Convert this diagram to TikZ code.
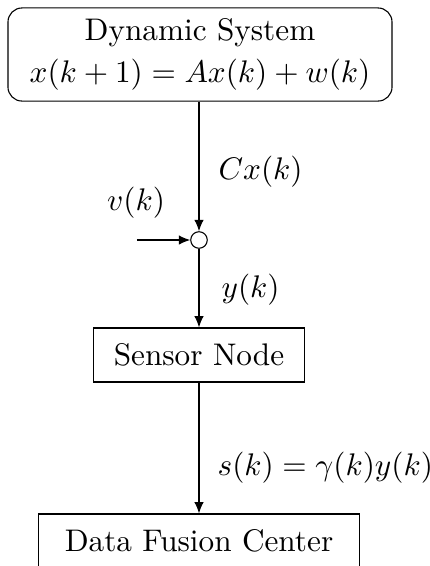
\documentclass[tikz,border=0pt]{standalone}
\usetikzlibrary{arrows.meta}
\begin{document}
\begin{tikzpicture}[x=0.32pt,y=-0.32pt,
  blk/.style={draw,line width=0.35pt,inner sep=0pt,align=center},
  lbl/.style={inner sep=0pt,anchor=west},
  arr/.style={-{Latex[length=3.6pt,width=3pt]},line width=0.35pt}]
\useasboundingbox (0,0) rectangle (430,566);
\clip (0,0) rectangle (430,566);
\node[blk,rounded corners=4.5pt,minimum width=122.9pt,minimum height=29.8pt] (sys) at (200,54.5)
  {Dynamic System\\[1.5pt] $x(k+1)=Ax(k)+w(k)$};
\node[draw,circle,line width=0.35pt,minimum size=5.3pt,inner sep=0pt] (sum) at (199,240) {};
\node[blk,minimum width=67.8pt,minimum height=17.3pt] (sen) at (199,355) {Sensor Node};
\node[blk,minimum width=103pt,minimum height=17.3pt] (dfc) at (199,541) {Data Fusion Center};
\coordinate (vin) at (137,240);
\node[inner sep=0pt] (vl) at (136,203) {$v(k)$};
\node[lbl] (cl) at (218,172) {$Cx(k)$};
\node[lbl] (yl) at (221,290) {$y(k)$};
\node[lbl] (sl) at (217,468) {$s(k)=\gamma(k)y(k)$};
\draw[arr] (sys.south -| sum) -- (sum.north);
\draw[arr] (vin) -- (sum.west);
\draw[arr] (sum.south) -- (sen.north -| sum);
\draw[arr] (sen.south) -- (dfc.north);
\end{tikzpicture}
\end{document}
